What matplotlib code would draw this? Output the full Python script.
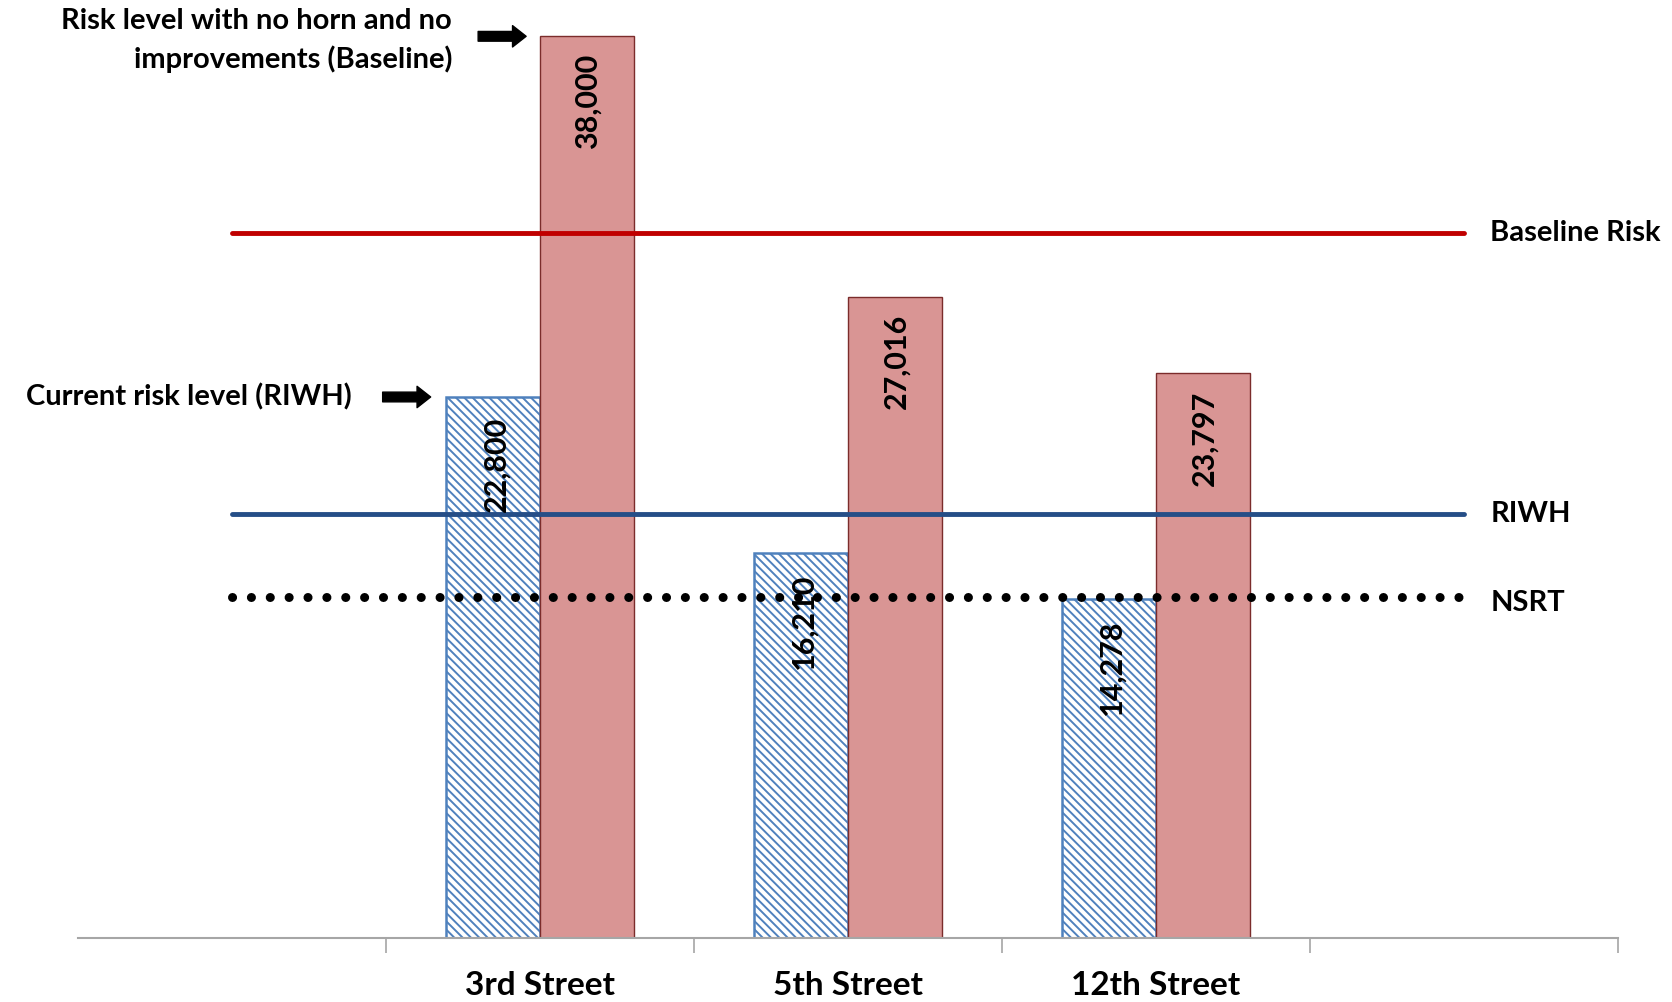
import matplotlib
matplotlib.use("Agg")
import matplotlib.pyplot as plt
import numpy as np

plt.rcParams['font.family'] = ['Lato', 'DejaVu Sans']
plt.rcParams['hatch.linewidth'] = 1.4

categories = ["", "3rd Street", "5th Street", "12th Street", ""]
riwh_values = [22800, 16210, 14278]        # current risk level (RIWH)
baseline_values = [38000, 27016, 23797]    # no horn, no improvements
bar_positions = [1, 2, 3]
line_positions = [0, 1, 2, 3, 4]
baseline_risk = [29700] * 5
riwh_line = [17850] * 5
nsrt_line = [14380] * 5

W, H, DPI = 16.72, 10.02, 100
fig = plt.figure(figsize=(W, H), dpi=DPI)
ax = fig.add_axes([78 / 1672, 64 / 1002, (1618 - 78) / 1672, (1002 - 64) / 1002])

bw = 0.305
blue = "#4F81BD"
ax.bar(np.array(bar_positions) - bw / 2, riwh_values, width=bw, color="white",
       edgecolor=blue, hatch="\\\\\\\\", linewidth=1.8, zorder=2)
ax.bar(np.array(bar_positions) + bw / 2, baseline_values, width=bw, color="#D99594",
       edgecolor="#7B2C2B", linewidth=1.0, zorder=2)

ax.plot(line_positions, baseline_risk, color="#C00000", lw=3.5, solid_capstyle="round", zorder=3)
ax.plot(line_positions, riwh_line, color="#254E87", lw=3.5, solid_capstyle="round", zorder=3)
ax.plot(line_positions, nsrt_line, color="black", lw=6.5, linestyle=(0, (0.01, 2.08)),
        dash_capstyle="round", zorder=3)

lab_kw = dict(fontsize=21, fontweight="bold", color="black")
ax.text(4 + 0.085, baseline_risk[-1], "Baseline Risk", ha="left", va="center", **lab_kw)
ax.text(4 + 0.085, riwh_line[-1], "RIWH", ha="left", va="center", **lab_kw)
ax.text(4 + 0.085, nsrt_line[-1] - 250, "NSRT", ha="left", va="center", **lab_kw)

num_kw = dict(fontsize=22, fontweight="bold", color="black")

def fmt(v):
    return f"{v:,}"

for x, v in zip(bar_positions, riwh_values):
    ax.annotate(fmt(v), xy=(x - bw / 2, v), xytext=(3, -20), textcoords="offset pixels",
                rotation=90, ha="center", va="top", zorder=4, **num_kw)
for x, v in zip(bar_positions, baseline_values):
    ax.annotate(fmt(v), xy=(x + bw / 2, v), xytext=(1, -17), textcoords="offset pixels",
                rotation=90, ha="center", va="top", zorder=4, **num_kw)

arrow_props = dict(arrowstyle="simple,head_length=0.7,head_width=1.1,tail_width=0.5",
                   color="black", shrinkA=0, shrinkB=0, mutation_scale=14)
# arrow to baseline bar (3rd Street)
tip1 = (bar_positions[0] - 0.045, baseline_values[0])
ax.annotate("", xy=tip1, xytext=(-48, 0), textcoords="offset pixels",
            arrowprops=arrow_props, annotation_clip=False)
ax.annotate("Risk level with no horn and no\nimprovements (Baseline)", xy=tip1,
            xytext=(-74, -4), textcoords="offset pixels", ha="right", va="center",
            multialignment="right", linespacing=1.5, annotation_clip=False, **lab_kw)
# arrow to current risk bar
tip2 = (bar_positions[0] - bw - 0.05, riwh_values[0])
ax.annotate("", xy=tip2, xytext=(-48, 0), textcoords="offset pixels",
            arrowprops=arrow_props, annotation_clip=False)
ax.annotate("Current risk level (RIWH)", xy=tip2, xytext=(-79, 0),
            textcoords="offset pixels", ha="right", va="center",
            annotation_clip=False, **lab_kw)

ax.set_xlim(-0.5, 4.5)
ax.set_ylim(0, 39530)
ax.set_xticks(line_positions)
ax.set_xticklabels(categories, fontsize=24, fontweight="bold")
ax.tick_params(axis="x", which="major", length=0, pad=24)
ax.set_xticks([0.5, 1.5, 2.5, 3.5, 4.5], minor=True)
ax.tick_params(axis="x", which="minor", length=11, color="#A6A6A6", width=1.2)
ax.set_yticks([])
for s in ["top", "right", "left"]:
    ax.spines[s].set_visible(False)
ax.spines["bottom"].set_color("#A6A6A6")
ax.spines["bottom"].set_linewidth(1.5)
ax.patch.set_alpha(0)

fig.savefig("out.png", dpi=DPI)
